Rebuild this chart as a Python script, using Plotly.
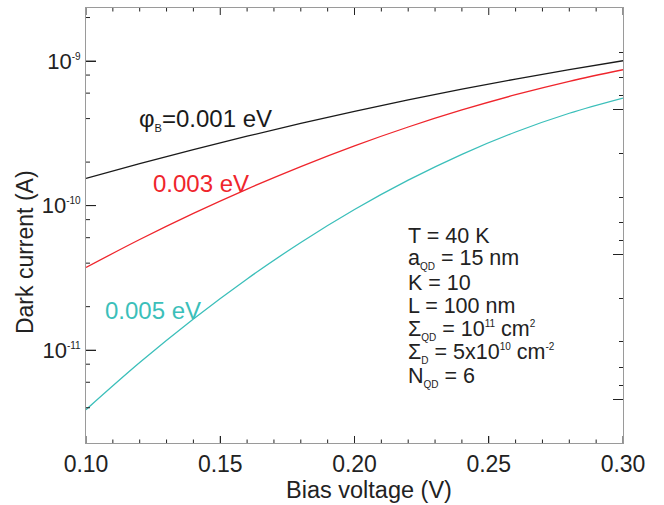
import plotly.graph_objects as go

# ---- data ----
bias_v = [0.10, 0.12, 0.14, 0.16, 0.18, 0.20, 0.22, 0.24, 0.26, 0.28, 0.30]
current_001 = [1.545e-10, 1.953e-10, 2.441e-10, 3.021e-10, 3.701e-10, 4.485e-10,
               5.381e-10, 6.388e-10, 7.506e-10, 8.730e-10, 1.005e-9]
current_003 = [3.733e-11, 5.829e-11, 8.837e-11, 1.302e-10, 1.863e-10, 2.591e-10,
               3.498e-10, 4.589e-10, 5.851e-10, 7.245e-10, 8.710e-10]
current_005 = [3.873e-12, 8.204e-12, 1.643e-11, 3.110e-11, 5.560e-11, 9.397e-11,
               1.500e-10, 2.265e-10, 3.230e-10, 4.355e-10, 5.546e-10]

x_ticks = [0.10, 0.15, 0.20, 0.25, 0.30]
x_minor = [0.11, 0.12, 0.13, 0.14, 0.16, 0.17, 0.18, 0.19,
           0.21, 0.22, 0.23, 0.24, 0.26, 0.27, 0.28, 0.29]
y_ticks = [1e-11, 1e-10, 1e-9]
y_exps = ["-11", "-10", "-9"]
y_minor = [4e-12, 6e-12, 8e-12, 2e-11, 4e-11, 6e-11, 8e-11,
           2e-10, 4e-10, 6e-10, 8e-10, 2e-9]
right_major = [1, 10, 100]
right_minor = [0.2, 0.4, 0.6, 0.8, 2, 4, 6, 8, 20, 40, 60, 80]

SUB = "<sub><span style='font-size:10px'>{}</span></sub>"
SUP = "<sup><span style='font-size:10px'>{}</span></sup>"
params = ["T = 40 K",
          "a" + SUB.format("QD") + " = 15 nm",
          "K = 10",
          "L = 100 nm",
          "Σ" + SUB.format("QD") + " = 10" + SUP.format("11") + " cm" + SUP.format("2"),
          "Σ" + SUB.format("D") + " = 5x10" + SUP.format("10") + " cm" + SUP.format("-2"),
          "N" + SUB.format("QD") + " = 6"]

BLACK = "#1a1a1a"
RED = "#ef252c"
CYAN = "#3bbfba"
TXT = "#222222"
FONT = "Liberation Sans, Arial, sans-serif"

# pixel geometry of the plot area
W, H = 664, 505
L_PX, R_PX, T_PX, B_PX = 86, 623, 8.3, 442.7
PW, PH = R_PX - L_PX, B_PX - T_PX
X0, X1 = 0.10, 0.30
Y0, Y1 = -11.642, -8.633  # log10 range
R0, R1 = 2.303, -0.705     # mirrored (reversed) right-hand scale


def ppx(px):
    return (px - L_PX) / PW


def ppy(py):
    return (B_PX - py) / PH


fig = go.Figure()
for ys, col in [(current_001, BLACK), (current_003, RED), (current_005, CYAN)]:
    fig.add_trace(go.Scatter(x=bias_v, y=ys, mode="lines",
                             line=dict(color=col, width=1.3, shape="spline"),
                             showlegend=False, hoverinfo="skip"))

# right-hand mirrored tick axes
common = dict(showgrid=False, zeroline=False, showline=False,
              showticklabels=False, tickmode="array", tickcolor=TXT, tickwidth=1,
              ticks="inside")
right_axes = {
    "yaxis2": dict(type="log", overlaying="y", anchor="x", side="right",
                   range=[R0, R1], tickvals=right_major, ticklen=10, **common),
    "yaxis3": dict(type="log", overlaying="y", anchor="x", side="right",
                   range=[R0, R1], tickvals=right_minor, ticklen=4, **common),
}
for name in right_axes:
    fig.add_trace(go.Scatter(x=[None], y=[None], xaxis="x",
                             yaxis=name.replace("axis", ""), mode="lines",
                             showlegend=False, hoverinfo="skip"))

# tick marks on the bottom/top (x values on the x scale, length on a pixel scale)
# and on the left edge (y values on the log scale, length on a pixel scale)
tx, ty = [], []
for v, ln in [(v, 7) for v in x_ticks] + [(v, 3.5) for v in x_minor]:
    tx += [v, v, None, v, v, None]
    ty += [0, ln, None, PH, PH - ln, None]
fig.add_trace(go.Scatter(x=tx, y=ty, xaxis="x", yaxis="y4", mode="lines",
                         line=dict(color=TXT, width=1), cliponaxis=False,
                         showlegend=False, hoverinfo="skip"))
lx, ly = [], []
for v, ln in [(v, 10) for v in y_ticks] + [(v, 4) for v in y_minor]:
    lx += [0, ln, None]
    ly += [v, v, None]
fig.add_trace(go.Scatter(x=lx, y=ly, xaxis="x2", yaxis="y", mode="lines",
                         line=dict(color=TXT, width=1), cliponaxis=False,
                         showlegend=False, hoverinfo="skip"))

fig.update_layout(
    width=W, height=H,
    margin=dict(l=L_PX, r=W - R_PX, t=T_PX, b=H - B_PX),
    paper_bgcolor="white", plot_bgcolor="white",
    font=dict(family=FONT, size=23, color=TXT),
    showlegend=False,
    xaxis=dict(range=[X0, X1], tickmode="array", tickvals=x_ticks,
               ticktext=[f"{v:.2f}" for v in x_ticks],
               ticks="inside", ticklen=7, tickcolor=TXT, tickwidth=1,
               showline=True, linecolor="#9a9a9a", linewidth=1, mirror=True,
               showgrid=False, zeroline=False,
               tickfont=dict(size=23, color=TXT)),
    yaxis=dict(type="log", range=[Y0, Y1], tickmode="array", tickvals=y_ticks,
               ticktext=["10<sup><span style='font-size:10px'>" + e + "</span></sup>"
                         for e in y_exps],
               ticks="inside", ticklen=10, tickcolor=TXT, tickwidth=1,
               showline=True, linecolor="#9a9a9a", linewidth=1, mirror=True,
               showgrid=False, zeroline=False,
               tickfont=dict(size=22, color=TXT)),
    xaxis2=dict(overlaying="x", anchor="y", range=[0, PW], visible=False),
    yaxis4=dict(overlaying="y", anchor="x", range=[0, PH], visible=False),
    **right_axes,
)

ann = []
# axis titles
ann.append(dict(x=ppx(25), y=ppy(252), xref="paper", yref="paper",
                text="Dark current (A)", textangle=-90, showarrow=False,
                xanchor="center", yanchor="middle",
                font=dict(size=23, color=TXT)))
ann.append(dict(x=ppx(369), y=ppy(490), xref="paper", yref="paper",
                text="Bias voltage (V)", showarrow=False,
                xanchor="center", yanchor="middle",
                font=dict(size=23.5, color=TXT)))
# curve labels
ann.append(dict(x=ppx(137), y=ppy(120), xref="paper", yref="paper", xanchor="left",
                yanchor="middle",
                text="φ<sub><span style='font-size:11px'>B</span></sub>=0.001 eV",
                showarrow=False, font=dict(size=24, color=BLACK)))
ann.append(dict(x=ppx(151), y=ppy(184), xref="paper", yref="paper", xanchor="left",
                yanchor="middle", text="0.003 eV", showarrow=False,
                font=dict(size=24, color=RED)))
ann.append(dict(x=ppx(103), y=ppy(310), xref="paper", yref="paper", xanchor="left",
                yanchor="middle", text="0.005 eV", showarrow=False,
                font=dict(size=24, color=CYAN)))
# parameter block
for i, t in enumerate(params):
    ann.append(dict(x=ppx(406), y=ppy(236 + i * 23.4), xref="paper", yref="paper",
                    xanchor="left", yanchor="middle", text=t, showarrow=False,
                    font=dict(size=21.5, color=TXT)))
fig.update_layout(annotations=ann)

fig.write_html("out.html")
